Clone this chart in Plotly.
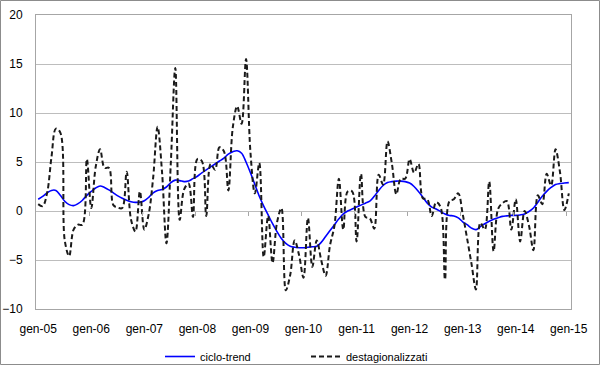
import plotly.graph_objects as go

mesi = ["gen", "feb", "mar", "apr", "mag", "giu", "lug", "ago", "set", "ott", "nov", "dic"]
categorie = [f"{mesi[i % 12]}-{5 + i // 12:02d}" for i in range(121)]

ciclo_trend = [
    1.2, 1.5, 1.85, 2.1, 2.1, 1.6, 1.0, 0.65, 0.55, 0.75, 1.1, 1.6,
    2.0, 2.35, 2.55, 2.4, 2.15, 1.85, 1.55, 1.3, 1.1, 0.95, 0.88, 0.9,
    1.05, 1.4, 1.85, 2.1, 2.2, 2.45, 2.9, 3.15, 3.1, 3.0, 3.05, 3.3,
    3.55, 3.9, 4.2, 4.5, 4.8, 5.1, 5.4, 5.8, 6.05, 6.15, 5.9, 5.0,
    3.9, 2.7, 1.5, 0.5, -0.4, -1.3, -2.1, -2.8, -3.3, -3.6, -3.7, -3.75,
    -3.75, -3.7, -3.65, -3.6, -3.2, -2.6, -2.0, -1.4, -0.8, -0.3, 0.0, 0.2,
    0.4, 0.6, 0.8, 1.0, 1.5, 2.1, 2.6, 2.9, 3.0, 3.05, 3.05, 3.0,
    2.85, 2.5, 2.0, 1.4, 0.8, 0.4, 0.2, -0.05, -0.3, -0.45, -0.5, -0.7,
    -1.1, -1.4, -1.75, -1.9, -1.6, -1.3, -1.05, -0.85, -0.7, -0.55, -0.5, -0.45,
    -0.45, -0.4, -0.3, -0.05, 0.3, 0.9, 1.5, 2.0, 2.4, 2.7, 2.8, 2.85,
    2.9,
]

destagionalizzati = [
    0.7, 0.5, 1.8, 5.5, 8.4, 8.0, -3.0, -4.6, -1.9, -1.4, -1.4, 5.3,
    0.3, 4.5, 6.3, 4.4, 4.4, 0.6, 0.35, 0.3, 4.0, -0.9, -2.1, 2.0,
    -1.9, -0.3, 3.4, 8.6, 4.0, -3.3, 5.0, 14.6, -0.9, 2.2, 2.8, -0.6,
    5.3, 5.1, -0.5, 4.8, 4.2, 6.5, 6.1, 2.1, 8.5, 10.7, 8.9, 15.5,
    6.0, 1.8, 4.9, -4.7, -0.5, -5.3, -1.2, 0.3, -8.1, -6.5, -3.0, -4.5,
    -6.8, -0.7, -5.7, -3.0, -5.0, -6.6, -3.5, -1.5, 3.3, -1.9, 2.0, 2.0,
    -3.1, 3.8, -0.6, -0.75, -1.8, 3.7, 2.7, 7.1, 4.8, 1.7, 3.3, 3.3,
    5.3, 3.9, 4.8, 1.3, 1.2, -0.5, 0.9, 0.4, -7.0, 1.0, 1.2, 1.8,
    -0.3, -2.8, -5.4, -8.0, -1.2, -1.9, 3.0, -4.1, 0.2, 0.8, 1.0, -1.9,
    1.2, -3.1, 0.0, -1.5, -4.0, 1.6, 0.7, 3.8, 2.6, 6.3, 4.0, 0.1,
    1.8,
]

tick_labels = ["gen-05", "gen-06", "gen-07", "gen-08", "gen-09", "gen-10",
               "gen-11", "gen-12", "gen-13", "gen-14", "gen-15"]
y_ticks = [-10, -5, 0, 5, 10, 15, 20]

idx = list(range(len(categorie)))
FONT = "Liberation Sans, Arial, sans-serif"
GRID = "#bdbdbd"

fig = go.Figure()
fig.add_trace(go.Scatter(
    x=categorie, y=ciclo_trend, name="ciclo-trend", mode="lines",
    line=dict(color="#0000ff", width=1.6, shape="spline", smoothing=1),
))
fig.add_trace(go.Scatter(
    x=categorie, y=destagionalizzati, name="destagionalizzati", mode="lines",
    line=dict(color="#1a1a1a", width=2, dash="5px,3px", shape="spline", smoothing=1),
))
# invisible trace carrying the overlay axis with the tick marks on the zero line
fig.add_trace(go.Scatter(
    x=idx, y=ciclo_trend, xaxis="x2", yaxis="y", mode="lines",
    line=dict(color="rgba(0,0,0,0)", width=0), showlegend=False, hoverinfo="skip",
))

fig.update_layout(
    width=600, height=365,
    margin=dict(l=36, r=29, t=15, b=56, autoexpand=False),
    paper_bgcolor="white", plot_bgcolor="white",
    font=dict(family=FONT, size=12, color="#000000"),
    showlegend=True,
    legend=dict(
        orientation="h", x=(160 - 36) / 535, xanchor="left",
        y=(309 - 342) / 294, yanchor="top",
        font=dict(family=FONT, size=11, color="#000000"),
        entrywidth=101, bgcolor="rgba(0,0,0,0)",
    ),
    xaxis=dict(
        type="category", categoryorder="array", categoryarray=categorie,
        range=[-0.5, 120.5], automargin=False,
        tickmode="array", tickvals=[categorie[i * 12] for i in range(11)], ticktext=tick_labels,
        ticks="outside", ticklen=9, tickcolor="rgba(0,0,0,0)",
        showgrid=False, zeroline=False,
        showline=True, linecolor="#a6a6a6", linewidth=1, mirror=True,
        tickfont=dict(family=FONT, size=12, color="#000000"),
    ),
    xaxis2=dict(
        overlaying="x", anchor="free", position=1 / 3, automargin=False,
        range=[-0.5, 120.5], tickmode="array",
        tickvals=[11.5 + 12 * i for i in range(10)],
        ticks="outside", ticklen=4, tickcolor="#a6a6a6", tickwidth=1,
        showticklabels=False, showgrid=False, zeroline=False, showline=False,
    ),
    yaxis=dict(
        range=[-10, 20], tickmode="array", tickvals=y_ticks, automargin=False,
        ticks="outside", ticklen=10, tickcolor="rgba(0,0,0,0)",
        showgrid=True, gridcolor=GRID, gridwidth=1, zeroline=False,
        showline=True, linecolor="#a6a6a6", linewidth=1, mirror=True,
        tickfont=dict(family=FONT, size=12, color="#000000"),
    ),
    shapes=[dict(
        type="rect", xref="paper", yref="paper",
        x0=(0.5 - 36) / 535, x1=(599.5 - 36) / 535,
        y0=(309 - 364.5) / 294, y1=(309 - 0.5) / 294,
        line=dict(color="#8c8c8c", width=1), fillcolor="rgba(0,0,0,0)", layer="below",
    )],
)

fig.write_html(
    "out.html",
    config={"displayModeBar": False},
    post_script="document.body.style.margin='0px';document.body.style.padding='0px';",
)
